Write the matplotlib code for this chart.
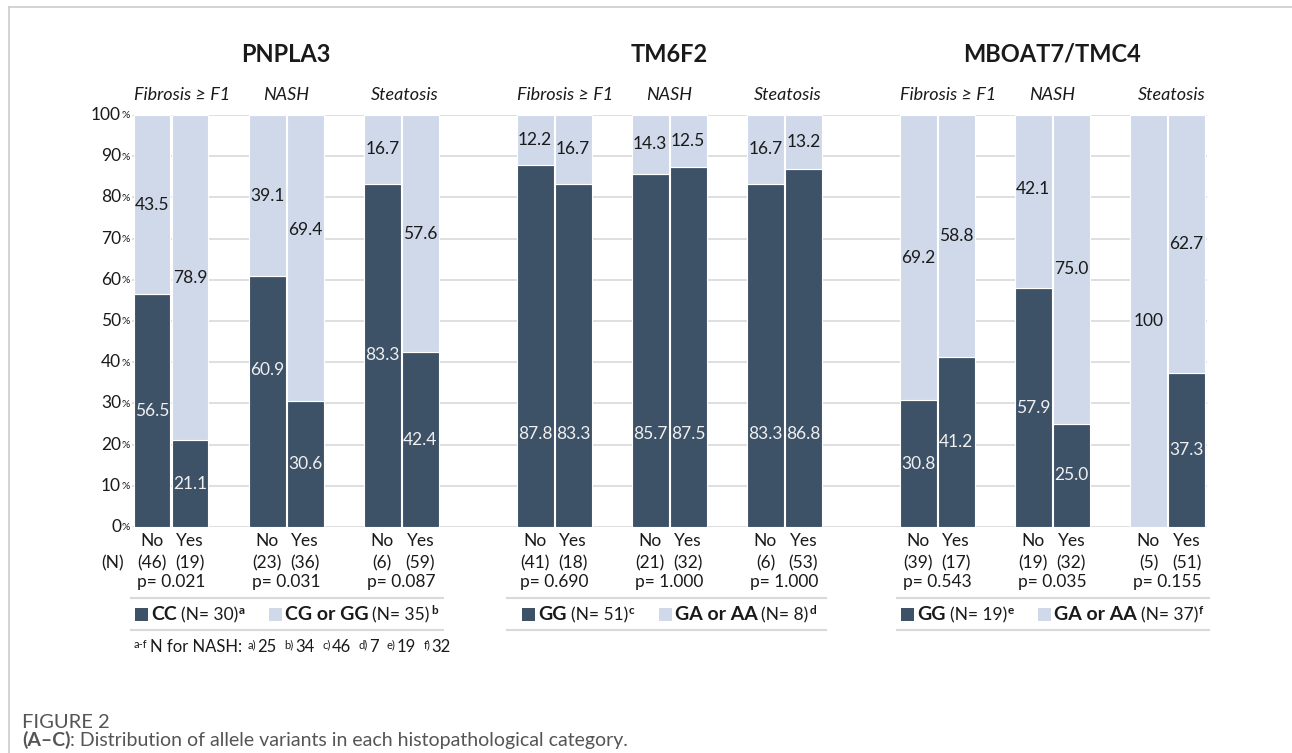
import numpy as np
import matplotlib
matplotlib.use("Agg")
import matplotlib.pyplot as plt
from matplotlib.patches import Rectangle
from matplotlib.lines import Line2D
from matplotlib import transforms

plt.rcParams['font.family'] = ['Lato', 'DejaVu Sans']

# --- data ---
genes = ["PNPLA3", "TM6F2", "MBOAT7/TMC4"]
categories = ["Fibrosis \u2265 F1", "NASH", "Steatosis"]
answers = ["No", "Yes"]

# dark share (%) per gene -> category -> [No, Yes]
dark_pct = [
    [[56.5, 21.1], [60.9, 30.6], [83.3, 42.4]],
    [[87.8, 83.3], [85.7, 87.5], [83.3, 86.8]],
    [[30.8, 41.2], [57.9, 25.0], [0.0, 37.3]],
]
light_pct = [
    [[43.5, 78.9], [39.1, 69.4], [16.7, 57.6]],
    [[12.2, 16.7], [14.3, 12.5], [16.7, 13.2]],
    [[69.2, 58.8], [42.1, 75.0], [100.0, 62.7]],
]
counts = [
    [[46, 19], [23, 36], [6, 59]],
    [[41, 18], [21, 32], [6, 53]],
    [[39, 17], [19, 32], [5, 51]],
]
p_values = [
    ["0.021", "0.031", "0.087"],
    ["0.690", "1.000", "1.000"],
    ["0.543", "0.035", "0.155"],
]
dark_names = ["CC", "GG", "GG"]
dark_n = [30, 51, 19]
dark_sup = ["a", "c", "e"]
light_names = ["CG or GG", "GA or AA", "GA or AA"]
light_n = [35, 8, 37]
light_sup = ["b", "d", "f"]
nash_notes = [("a)", "25"), ("b)", "34"), ("c)", "46"), ("d)", "7"), ("e)", "19"), ("f)", "32")]
y_ticks = [0, 10, 20, 30, 40, 50, 60, 70, 80, 90, 100]

# label placement tweaks (label y in %), as in the original figure
label_y_override = {
    ("d", 0, 1, 0): 38, ("l", 0, 1, 1): 72, ("l", 2, 1, 0): 82,
    ("d", 1, 0, 0): 22.6, ("d", 1, 0, 1): 22.6, ("d", 1, 1, 0): 22.6,
    ("d", 1, 1, 1): 22.6, ("d", 1, 2, 0): 22.6, ("d", 1, 2, 1): 22.6,
}

DARK = "#3d5167"
LIGHT = "#cfd9ea"
GRID = "#d9d9d9"
TXT = "#1a1a1a"
CAP = "#555555"

W, H = 1292, 753
fig = plt.figure(figsize=(W / 100, H / 100), dpi=100)


def fx(px):
    return px / W


def fy(py):
    return 1 - py / H


ax = fig.add_axes([fx(132), fy(527), fx(1207) - fx(132), fy(115) - fy(527)])
GENE_STEP, CAT_STEP = 10.08, 3.03


def xpos(g, c, b):
    return g * GENE_STEP + c * CAT_STEP + b


for g in range(3):
    for c in range(3):
        for b in range(2):
            x = xpos(g, c, b)
            d = dark_pct[g][c][b]
            l = light_pct[g][c][b]
            ax.bar(x, d, width=0.97, color=DARK, edgecolor="white", linewidth=0.8, zorder=2)
            ax.bar(x, l, bottom=d, width=0.97, color=LIGHT, edgecolor="white", linewidth=0.8, zorder=2)
            if d > 0:
                yy = label_y_override.get(("d", g, c, b), d / 2)
                ax.text(x, yy, f"{d:.1f}", ha="center", va="center", color="#f0f0f0",
                        fontsize=12.5, zorder=3)
            if l > 0:
                yy = label_y_override.get(("l", g, c, b), d + l / 2)
                txt = "100" if l == 100 else f"{l:.1f}"
                ax.text(x, yy, txt, ha="center", va="center", color=TXT, fontsize=12.5, zorder=3)

ax.set_xlim(-0.526, 27.76)
ax.set_ylim(0, 100)
ax.set_yticks(y_ticks)
ax.set_yticklabels([])
ax.set_xticks([])
ax.tick_params(length=0)
ax.grid(axis="y", color=GRID, linewidth=1.2, zorder=0)
ax.set_axisbelow(True)
for s in ax.spines.values():
    s.set_visible(False)

# y tick labels: number + small %
ytr = ax.get_yaxis_transform()
for t in y_ticks:
    ax.text(0, t, str(t), ha="right", va="center", fontsize=12.5, color=TXT,
            transform=transforms.offset_copy(ytr, fig, x=-11, y=0, units="dots"))
    ax.text(0, t, "%", ha="left", va="center", fontsize=7.5, color=TXT,
            transform=transforms.offset_copy(ytr, fig, x=-10, y=-1, units="dots"))

xtr = ax.get_xaxis_transform()


def ay(py):
    return (527 - py) / 412


for g in range(3):
    gx = (xpos(g, 0, 0) + xpos(g, 2, 1)) / 2
    ax.text(gx, ay(54), genes[g], ha="center", va="center", fontsize=17,
            fontweight="bold", color=TXT, transform=xtr)
    for c in range(3):
        cx = xpos(g, c, 0) + 0.5
        hx = cx + (0.28 if c == 0 else 0.1 if c == 2 else 0)
        ax.text(hx, ay(95), categories[c], ha="center", va="center", fontsize=13,
                style="italic", color=TXT, transform=xtr)
        ax.text(cx, ay(582), f"p= {p_values[g][c]}", ha="center", va="center",
                fontsize=12.5, color=TXT, transform=xtr)
        for b in range(2):
            x = xpos(g, c, b)
            ax.text(x, ay(541), answers[b], ha="center", va="center", fontsize=12.5,
                    color=TXT, transform=xtr)
            ax.text(x, ay(563), f"({counts[g][c][b]})", ha="center", va="center",
                    fontsize=12.5, color=TXT, transform=xtr)
    # legend separator lines
    x0 = xpos(g, 0, 0) - 0.55 - (0.2 if g == 1 else 0)
    x1 = xpos(g, 2, 1) + 0.6
    for py in (598, 630):
        ax.plot([x0, x1], [ay(py), ay(py)], color=GRID, linewidth=1.5,
                transform=xtr, clip_on=False)

fig.text(fx(113), fy(563), "(N)", ha="center", va="center", fontsize=12.5, color=TXT)

renderer = fig.canvas.get_renderer()


def run_pieces(x_start, base_py, pieces, center=False):
    """pieces: (kind, text, fontsize, weight, raise_px, color, gap_after_px)"""
    arts = []
    x = x_start
    for kind, text, size, weight, dy, color, gap in pieces:
        if kind == "box":
            r = Rectangle((fx(x), fy(base_py + 1)), fx(13), 13 / H, transform=fig.transFigure,
                          facecolor=color, edgecolor="none")
            fig.add_artist(r)
            arts.append((r, x))
            x += 13 + gap
        else:
            t = fig.text(fx(x), fy(base_py - dy), text, fontsize=size, fontweight=weight,
                         color=color, ha="left", va="baseline")
            w = t.get_window_extent(renderer).width
            arts.append((t, x))
            x += w + gap
    if center:
        shift = (x - x_start) / 2
        for a, ax0 in arts:
            a.set_x(fx(ax0 - shift))
    return x


for g in range(3):
    gx_data = (xpos(g, 0, 0) + xpos(g, 2, 1)) / 2
    gx_px = ax.transData.transform((gx_data, 0))[0]
    pieces = [
        ("box", "", 0, "normal", 0, DARK, 3),
        ("txt", dark_names[g], 14, "bold", 0, TXT, 4),
        ("txt", f"(N= {dark_n[g]})", 12.5, "normal", 0, TXT, 1),
        ("txt", dark_sup[g], 8.5, "bold", 6, TXT, 24),
        ("box", "", 0, "normal", 0, LIGHT, 3),
        ("txt", light_names[g], 14, "bold", 0, TXT, 4),
        ("txt", f"(N= {light_n[g]})", 12.5, "normal", 0, TXT, 1),
        ("txt", light_sup[g], 8.5, "bold", 6, TXT, 0),
    ]
    run_pieces(gx_px, 620, pieces, center=True)

# footnote
foot = [("txt", "a-f", 8, "normal", 4, TXT, 2),
        ("txt", "N for NASH:", 12, "normal", 0, TXT, 6)]
for sup, val in nash_notes:
    foot.append(("txt", sup, 8, "normal", 4, TXT, 1))
    foot.append(("txt", val, 12, "normal", 0, TXT, 8))
run_pieces(134, 652, foot)

# caption
fig.text(fx(22), fy(728), "FIGURE 2", fontsize=14.5, color=CAP, ha="left", va="baseline")
run_pieces(22, 746, [
    ("txt", "(A\u2013C)", 14, "bold", 0, CAP, 0),
    ("txt", ": Distribution of allele variants in each histopathological category.", 14,
     "normal", 0, CAP, 0),
])

# outer frame
fig.add_artist(Line2D([fx(9), 1], [fy(7), fy(7)], color="#cccccc", linewidth=1.2,
                      transform=fig.transFigure))
fig.add_artist(Line2D([fx(9), fx(9)], [fy(7), 0], color="#cccccc", linewidth=1.2,
                      transform=fig.transFigure))

fig.savefig("out.png", dpi=100)
